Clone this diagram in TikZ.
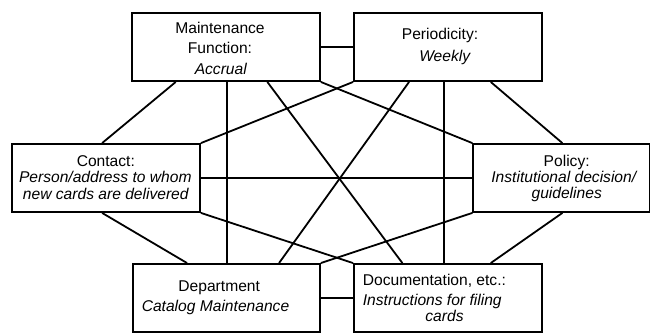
\documentclass[tikz,border=0pt]{standalone}
\usepackage{fontspec}
\setmainfont{Liberation Sans}
\begin{document}
\begin{tikzpicture}[x=1pt,y=-1pt,
  box/.style={draw, line width=1.8pt, inner sep=0pt, rectangle},
  conn/.style={line width=1.8pt},
  txt/.style={anchor=base, inner sep=0pt, font=\fontsize{15.6}{18}\selectfont},
  itxt/.style={txt, font=\fontsize{15.6}{18}\selectfont\itshape}]
\useasboundingbox (0,0) rectangle (651,333);
% boxes
\node[box, minimum width=188.3pt, minimum height=67.7pt] (mf) at (225.8,47.2) {};
\node[box, minimum width=187.7pt, minimum height=67.7pt] (per) at (447.8,47.2) {};
\node[box, minimum width=188pt, minimum height=68pt] (contact) at (106,178) {};
\node[box, minimum width=176.2pt, minimum height=68pt] (policy) at (561.4,178) {};
\node[box, minimum width=187.3pt, minimum height=67.7pt] (dept) at (226.3,297.8) {};
\node[box, minimum width=187.7pt, minimum height=67.7pt] (doc) at (447.8,297.8) {};
% connectors
\draw[conn] (mf.east) -- (per.west);
\draw[conn] (contact.east) -- (policy.west);
\draw[conn] (dept.east) -- (doc.west);
\draw[conn] (mf.south east) -- (policy.north west);
\draw[conn] (per.south west) -- (contact.north east);
\draw[conn] (contact.south east) -- (doc.north west);
\draw[conn] (dept.north east) -- (policy.south west);
\draw[conn] ([xshift=45pt]mf.south west) -- ([xshift=91pt]contact.north west);
\draw[conn] ([xshift=96.6pt]mf.south west) -- ([xshift=95.6pt]dept.north west);
\draw[conn] ([xshift=136.6pt]mf.south west) -- ([xshift=49.3pt]doc.north west);
\draw[conn] ([xshift=56pt]per.south west) -- ([xshift=147.3pt]dept.north west);
\draw[conn] ([xshift=91pt]per.south west) -- ([xshift=91pt]doc.north west);
\draw[conn] ([xshift=137.7pt]per.south west) -- ([xshift=90pt]policy.north west);
\draw[conn] ([xshift=91pt]contact.south west) -- ([xshift=55.3pt]dept.north west);
\draw[conn] ([xshift=90pt]policy.south west) -- ([xshift=137.7pt]doc.north west);
% texts
\node[txt] (mf1) at (220,33.3) {Maintenance};
\node[txt] (mf2) at (220,53.3) {Function:};
\node[itxt] (mf3) at (220.8,74) {Accrual};
\node[txt] (per1) at (440,39.3) {Periodicity:};
\node[itxt] (per2) at (444.7,61.7) {Weekly};
\node[txt] (co1) at (105.8,166) {Contact:};
\node[itxt] (co2) at (105.3,182.3) {Person/address to whom};
\node[itxt] (co3) at (105.8,199) {new cards are delivered};
\node[txt] (po1) at (566.7,166) {Policy:};
\node[itxt] (po2) at (563.8,182.7) {Institutional decision/};
\node[itxt] (po3) at (566.7,198.3) {guidelines};
\node[txt] (de1) at (219.2,291.7) {Department};
\node[itxt] (de2) at (215.5,311.7) {Catalog Maintenance};
\node[txt, anchor=base west] (do1) at (362.7,285) {Documentation, etc.:};
\node[itxt, anchor=base west] (do2) at (362.7,305) {Instructions for filing};
\node[itxt] (do3) at (444.5,321.7) {cards};
\end{tikzpicture}
\end{document}
